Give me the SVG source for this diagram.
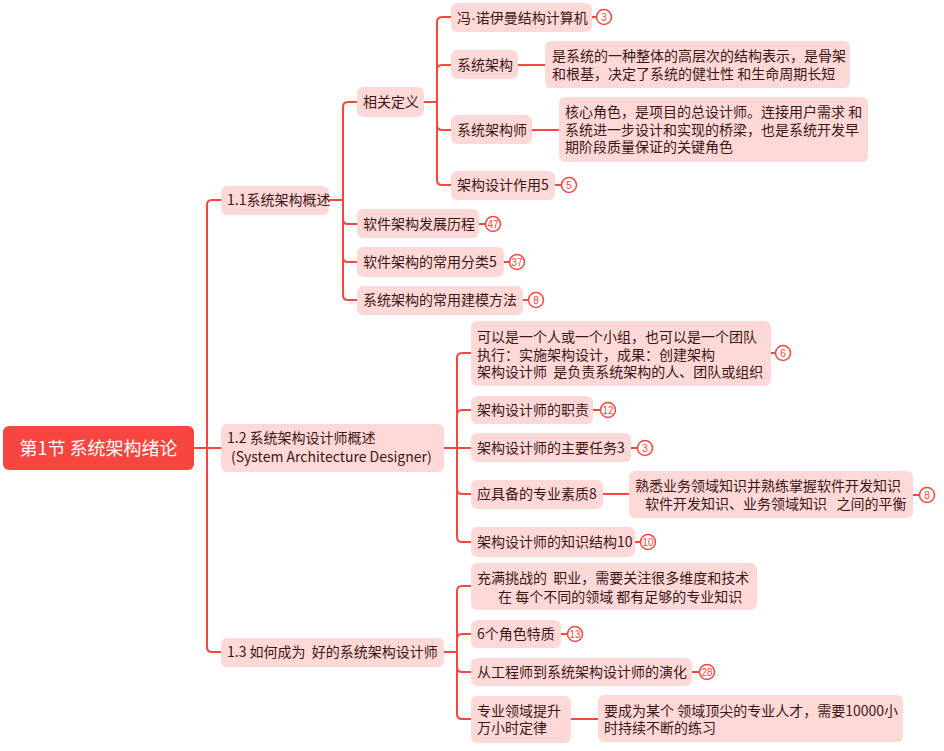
<svg xmlns="http://www.w3.org/2000/svg" width="944" height="751" viewBox="0 0 944 751">
<style>
.ln{fill:none;stroke:#f9463f;stroke-width:2;stroke-linecap:round;stroke-linejoin:round}
.nd{fill:#ffd9d8}
.t{font-family:"Noto Sans CJK SC","Liberation Sans",sans-serif;font-size:14px;fill:#3d1515}
.rt{font-family:"Noto Sans CJK SC","Liberation Sans",sans-serif;font-size:18px;fill:#ffffff}
.bc{fill:#ffffff;stroke:#f9463f;stroke-width:1.5}
.bt{font-family:"Liberation Sans",sans-serif;font-size:10px;fill:#f9463f;text-anchor:middle}
</style>
<rect width="944" height="751" fill="#ffffff"/>
<g id="connectors">
<path class="ln" d="M194,448 H207 V205 Q207,200 212,200 H221"/>
<path class="ln" d="M194,448 H221"/>
<path class="ln" d="M194,448 H207 V647 Q207,652 212,652 H221"/>
<path class="ln" d="M329,200 H343 V107 Q343,102 348,102 H357"/>
<path class="ln" d="M329,200 H343 V219 Q343,224 348,224 H357"/>
<path class="ln" d="M329,200 H343 V257 Q343,262 348,262 H357"/>
<path class="ln" d="M329,200 H343 V295 Q343,300 348,300 H357"/>
<path class="ln" d="M424,102 H437 V22 Q437,17 442,17 H451"/>
<path class="ln" d="M424,102 H437 V70 Q437,65 442,65 H451"/>
<path class="ln" d="M424,102 H437 V125 Q437,130 442,130 H451"/>
<path class="ln" d="M424,102 H437 V180 Q437,185 442,185 H451"/>
<path class="ln" d="M518,65 H545"/>
<path class="ln" d="M532,130 H559"/>
<path class="ln" d="M444,448 H457 V358 Q457,353 462,353 H471"/>
<path class="ln" d="M444,448 H457 V415 Q457,410 462,410 H471"/>
<path class="ln" d="M444,448 H471"/>
<path class="ln" d="M444,448 H457 V489 Q457,494 462,494 H471"/>
<path class="ln" d="M444,448 H457 V537 Q457,542 462,542 H471"/>
<path class="ln" d="M603,494 H629"/>
<path class="ln" d="M444,652 H457 V591 Q457,586 462,586 H471"/>
<path class="ln" d="M444,652 H457 V639 Q457,634 462,634 H471"/>
<path class="ln" d="M444,652 H457 V667 Q457,672 462,672 H471"/>
<path class="ln" d="M444,652 H457 V714 Q457,719 462,719 H471"/>
<path class="ln" d="M571,719 H598"/>
<path class="ln" d="M592,17 H597"/>
<path class="ln" d="M555,185 H562"/>
<path class="ln" d="M479,224 H486"/>
<path class="ln" d="M504,262 H510"/>
<path class="ln" d="M523,300 H529"/>
<path class="ln" d="M771,353 H776"/>
<path class="ln" d="M593,410 H601"/>
<path class="ln" d="M631,448 H638"/>
<path class="ln" d="M913,495 H920"/>
<path class="ln" d="M635,542 H641"/>
<path class="ln" d="M561,634 H568"/>
<path class="ln" d="M692,672 H700"/>
</g>
<g id="root">
<rect x="3" y="426" width="191" height="44" rx="6" fill="#f9453f"/>
<text class="rt" x="98.5" y="454.5" text-anchor="middle">第1节 系统架构绪论</text>
</g>
<g id="n11">
<rect class="nd" x="221" y="186" width="108" height="29" rx="6"/>
<text class="t" x="227" y="205">1.1系统架构概述</text>
</g>
<g id="n12">
<rect class="nd" x="221" y="424" width="223" height="48" rx="6"/>
<text class="t" x="227" y="443">1.2 系统架构设计师概述</text>
<text class="t" x="231" y="462">(System Architecture Designer)</text>
</g>
<g id="n13">
<rect class="nd" x="221" y="638" width="223" height="29" rx="6"/>
<text class="t" x="227" y="657" xml:space="preserve">1.3 如何成为  好的系统架构设计师</text>
</g>
<g id="n111">
<rect class="nd" x="357" y="87" width="67" height="30" rx="6"/>
<text class="t" x="363" y="107">相关定义</text>
</g>
<g id="n112">
<rect class="nd" x="357" y="209" width="122" height="29" rx="6"/>
<text class="t" x="363" y="229">软件架构发展历程</text>
<circle class="bc" cx="493" cy="224" r="7.5"/>
<text class="bt" x="493" y="227.5">47</text>
</g>
<g id="n113">
<rect class="nd" x="357" y="247" width="147" height="30" rx="6"/>
<text class="t" x="363" y="267">软件架构的常用分类5</text>
<circle class="bc" cx="517" cy="262" r="7.5"/>
<text class="bt" x="517" y="265.5">37</text>
</g>
<g id="n114">
<rect class="nd" x="357" y="286" width="166" height="29" rx="6"/>
<text class="t" x="363" y="305">系统架构的常用建模方法</text>
<circle class="bc" cx="536" cy="300" r="7.5"/>
<text class="bt" x="536" y="303.5">8</text>
</g>
<g id="n1111">
<rect class="nd" x="451" y="3" width="141" height="29" rx="6"/>
<text class="t" x="457" y="22.5">冯<tspan font-family="Liberation Sans">·</tspan>诺伊曼结构计算机</text>
<circle class="bc" cx="604" cy="17" r="7.5"/>
<text class="bt" x="604" y="20.5">3</text>
</g>
<g id="n1112">
<rect class="nd" x="451" y="50" width="67" height="29" rx="6"/>
<text class="t" x="457" y="70">系统架构</text>
</g>
<g id="n1112d">
<rect class="nd" x="545" y="41" width="305" height="47" rx="6"/>
<text class="t" x="552" y="61">是系统的一种整体的高层次的结构表示，是骨架</text>
<text class="t" x="552" y="79">和根基，决定了系统的健壮性 和生命周期长短</text>
</g>
<g id="n1113">
<rect class="nd" x="451" y="115" width="81" height="29" rx="6"/>
<text class="t" x="457" y="135">系统架构师</text>
</g>
<g id="n1113d">
<rect class="nd" x="559" y="97" width="309" height="65" rx="6"/>
<text class="t" x="565" y="117">核心角色，是项目的总设计师。连接用户需求 和</text>
<text class="t" x="565" y="135">系统进一步设计和实现的桥梁，也是系统开发早</text>
<text class="t" x="565" y="152">期阶段质量保证的关键角色</text>
</g>
<g id="n1114">
<rect class="nd" x="451" y="171" width="104" height="29" rx="6"/>
<text class="t" x="457" y="190">架构设计作用5</text>
<circle class="bc" cx="569" cy="185" r="7.5"/>
<text class="bt" x="569" y="188.5">5</text>
</g>
<g id="n121">
<rect class="nd" x="471" y="321" width="300" height="65" rx="6"/>
<text class="t" x="477" y="342">可以是一个人或一个小组，也可以是一个团队</text>
<text class="t" x="477" y="360">执行：实施架构设计，成果：创建架构</text>
<text class="t" x="477" y="377" xml:space="preserve">架构设计师  是负责系统架构的人、团队或组织</text>
<circle class="bc" cx="783" cy="353" r="7.5"/>
<text class="bt" x="783" y="356.5">6</text>
</g>
<g id="n122">
<rect class="nd" x="471" y="396" width="122" height="28" rx="6"/>
<text class="t" x="477" y="415">架构设计师的职责</text>
<circle class="bc" cx="608" cy="410" r="7.5"/>
<text class="bt" x="608" y="413.5">12</text>
</g>
<g id="n123">
<rect class="nd" x="471" y="433" width="160" height="29" rx="6"/>
<text class="t" x="477" y="453">架构设计师的主要任务3</text>
<circle class="bc" cx="645" cy="448" r="7.5"/>
<text class="bt" x="645" y="451.5">3</text>
</g>
<g id="n124">
<rect class="nd" x="471" y="480" width="132" height="29" rx="6"/>
<text class="t" x="477" y="499">应具备的专业素质8</text>
</g>
<g id="n124d">
<rect class="nd" x="629" y="471" width="284" height="47" rx="6"/>
<text class="t" x="635" y="491">熟悉业务领域知识并熟练掌握软件开发知识</text>
<text class="t" x="645" y="509" xml:space="preserve">软件开发知识、业务领域知识   之间的平衡</text>
<circle class="bc" cx="927" cy="495" r="7.5"/>
<text class="bt" x="927" y="498.5">8</text>
</g>
<g id="n125">
<rect class="nd" x="471" y="527" width="164" height="30" rx="6"/>
<text class="t" x="477" y="547">架构设计师的知识结构10</text>
<circle class="bc" cx="648" cy="542" r="7.5"/>
<text class="bt" x="648" y="545.5">10</text>
</g>
<g id="n131">
<rect class="nd" x="471" y="563" width="286" height="47" rx="6"/>
<text class="t" x="477" y="583" xml:space="preserve">充满挑战的  职业，需要关注很多维度和技术</text>
<text class="t" x="498" y="602">在 每个不同的领域 都有足够的专业知识</text>
</g>
<g id="n132">
<rect class="nd" x="471" y="620" width="90" height="28" rx="6"/>
<text class="t" x="477" y="639">6个角色特质</text>
<circle class="bc" cx="575" cy="634" r="7.5"/>
<text class="bt" x="575" y="637.5">13</text>
</g>
<g id="n133">
<rect class="nd" x="471" y="658" width="221" height="28" rx="6"/>
<text class="t" x="477" y="677">从工程师到系统架构设计师的演化</text>
<circle class="bc" cx="707" cy="672" r="7.5"/>
<text class="bt" x="707" y="675.5">28</text>
</g>
<g id="n134">
<rect class="nd" x="471" y="696" width="100" height="47" rx="6"/>
<text class="t" x="477" y="716">专业领域提升</text>
<text class="t" x="477" y="733">万小时定律</text>
</g>
<g id="n134d">
<rect class="nd" x="598" y="695" width="305" height="47" rx="6"/>
<text class="t" x="604" y="716">要成为某个 领域顶尖的专业人才，需要10000小</text>
<text class="t" x="604" y="733">时持续不断的练习</text>
</g>
</svg>
